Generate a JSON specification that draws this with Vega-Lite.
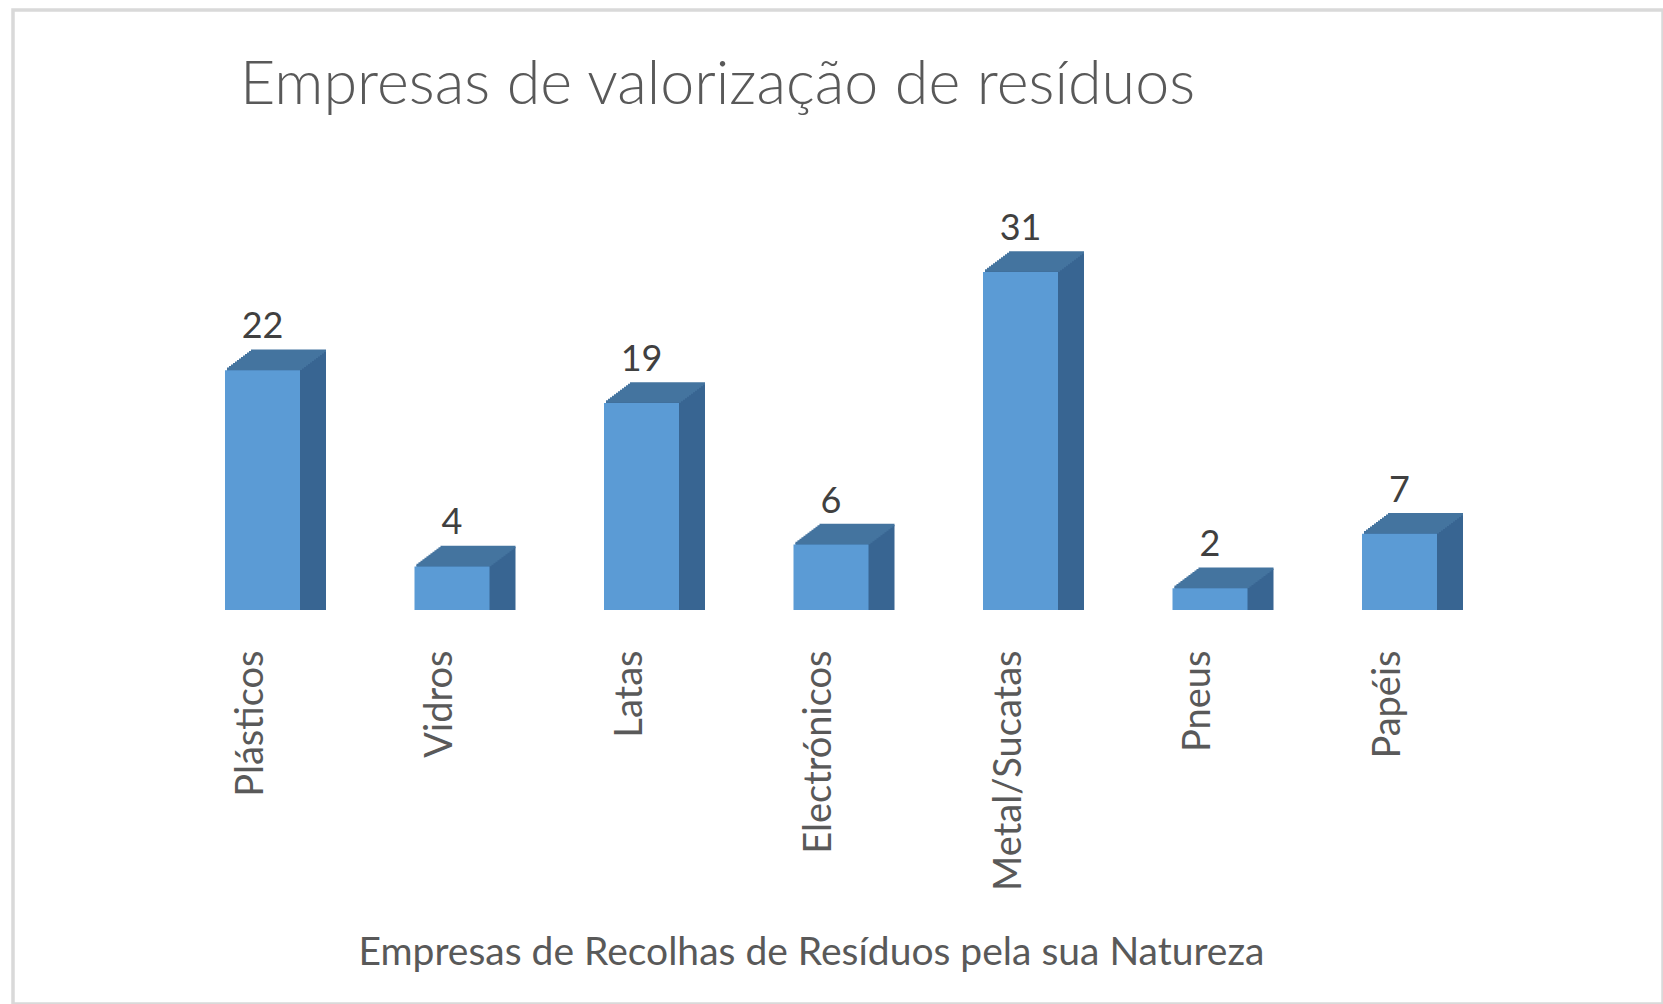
{
  "$schema": "https://vega.github.io/schema/vega-lite/v6.json",
  "autosize": {"type": "none"},
  "padding": {"left": 13, "top": 10, "right": 0, "bottom": 0},
  "width": 1650,
  "height": 994,
  "background": "#ffffff",
  "config": {
    "view": {"stroke": "#d9d9d9", "strokeWidth": 3.5},
    "font": "Lato"
  },
  "title": {
    "text": "Empresas de valorização de resíduos",
    "anchor": "start",
    "frame": "group",
    "orient": "top",
    "baseline": "alphabetic",
    "offset": -95,
    "dx": 227,
    "dy": 60,
    "font": "Lato",
    "fontSize": 61,
    "fontWeight": 300,
    "color": "#595959"
  },
  "data": {
    "values": [
      {"cat": "Plásticos", "n": 22},
      {"cat": "Vidros", "n": 4},
      {"cat": "Latas", "n": 19},
      {"cat": "Electrónicos", "n": 6},
      {"cat": "Metal/Sucatas", "n": 31},
      {"cat": "Pneus", "n": 2},
      {"cat": "Papéis", "n": 7}
    ]
  },
  "encoding": {
    "x": {
      "field": "cat",
      "type": "nominal",
      "sort": null,
      "scale": {"paddingInner": 0.60422, "paddingOuter": 0.30211, "range": [154.75, 1481.25]},
      "axis": {
        "title": "Empresas de Recolhas de Resíduos pela sua Natureza",
        "orient": "bottom",
        "offset": -394,
        "domain": false,
        "ticks": false,
        "labelAngle": -90,
        "labelAlign": "right",
        "labelBaseline": "alphabetic",
        "labelPadding": 40,
        "labelLimit": 0,
        "labelFont": "Lato",
        "labelFontSize": 38,
        "labelColor": "#595959",
        "titleFont": "Lato",
        "titleFontSize": 39,
        "titleFontWeight": "normal",
        "titleColor": "#595959",
        "titleX": 798,
        "titleY": 354,
        "titleAlign": "center",
        "titleAnchor": null,
        "titleBaseline": "alphabetic",
        "titleLimit": 0
      }
    },
    "y": {
      "field": "n",
      "type": "quantitative",
      "scale": {"domain": [-36.147, 55.046], "nice": false, "zero": false},
      "axis": null
    }
  },
  "layer": [
    {"mark": {"type": "bar", "color": "#386592", "opacity": 1, "xOffset": 2, "yOffset": -1.5}, "encoding": {"y2": {"datum": 0}}},
    {"mark": {"type": "bar", "color": "#386592", "opacity": 1, "xOffset": 4, "yOffset": -3}, "encoding": {"y2": {"datum": 0}}},
    {"mark": {"type": "bar", "color": "#386592", "opacity": 1, "xOffset": 6, "yOffset": -4.5}, "encoding": {"y2": {"datum": 0}}},
    {"mark": {"type": "bar", "color": "#386592", "opacity": 1, "xOffset": 8, "yOffset": -6}, "encoding": {"y2": {"datum": 0}}},
    {"mark": {"type": "bar", "color": "#386592", "opacity": 1, "xOffset": 10, "yOffset": -7.5}, "encoding": {"y2": {"datum": 0}}},
    {"mark": {"type": "bar", "color": "#386592", "opacity": 1, "xOffset": 12, "yOffset": -9}, "encoding": {"y2": {"datum": 0}}},
    {"mark": {"type": "bar", "color": "#386592", "opacity": 1, "xOffset": 14, "yOffset": -10.5}, "encoding": {"y2": {"datum": 0}}},
    {"mark": {"type": "bar", "color": "#386592", "opacity": 1, "xOffset": 16, "yOffset": -12}, "encoding": {"y2": {"datum": 0}}},
    {"mark": {"type": "bar", "color": "#386592", "opacity": 1, "xOffset": 18, "yOffset": -13.5}, "encoding": {"y2": {"datum": 0}}},
    {"mark": {"type": "bar", "color": "#386592", "opacity": 1, "xOffset": 20, "yOffset": -15}, "encoding": {"y2": {"datum": 0}}},
    {"mark": {"type": "bar", "color": "#386592", "opacity": 1, "xOffset": 22, "yOffset": -16.5}, "encoding": {"y2": {"datum": 0}}},
    {"mark": {"type": "bar", "color": "#386592", "opacity": 1, "xOffset": 24, "yOffset": -18}, "encoding": {"y2": {"datum": 0}}},
    {"mark": {"type": "bar", "color": "#386592", "opacity": 1, "xOffset": 26, "yOffset": -19.5}, "encoding": {"y2": {"datum": 0}}},
    {"mark": {"type": "tick", "color": "#44749f", "opacity": 1, "orient": "horizontal", "size": 75, "thickness": 2.5, "xOffset": 2, "yOffset": -1.5}},
    {"mark": {"type": "tick", "color": "#44749f", "opacity": 1, "orient": "horizontal", "size": 75, "thickness": 2.5, "xOffset": 4, "yOffset": -3}},
    {"mark": {"type": "tick", "color": "#44749f", "opacity": 1, "orient": "horizontal", "size": 75, "thickness": 2.5, "xOffset": 6, "yOffset": -4.5}},
    {"mark": {"type": "tick", "color": "#44749f", "opacity": 1, "orient": "horizontal", "size": 75, "thickness": 2.5, "xOffset": 8, "yOffset": -6}},
    {"mark": {"type": "tick", "color": "#44749f", "opacity": 1, "orient": "horizontal", "size": 75, "thickness": 2.5, "xOffset": 10, "yOffset": -7.5}},
    {"mark": {"type": "tick", "color": "#44749f", "opacity": 1, "orient": "horizontal", "size": 75, "thickness": 2.5, "xOffset": 12, "yOffset": -9}},
    {"mark": {"type": "tick", "color": "#44749f", "opacity": 1, "orient": "horizontal", "size": 75, "thickness": 2.5, "xOffset": 14, "yOffset": -10.5}},
    {"mark": {"type": "tick", "color": "#44749f", "opacity": 1, "orient": "horizontal", "size": 75, "thickness": 2.5, "xOffset": 16, "yOffset": -12}},
    {"mark": {"type": "tick", "color": "#44749f", "opacity": 1, "orient": "horizontal", "size": 75, "thickness": 2.5, "xOffset": 18, "yOffset": -13.5}},
    {"mark": {"type": "tick", "color": "#44749f", "opacity": 1, "orient": "horizontal", "size": 75, "thickness": 2.5, "xOffset": 20, "yOffset": -15}},
    {"mark": {"type": "tick", "color": "#44749f", "opacity": 1, "orient": "horizontal", "size": 75, "thickness": 2.5, "xOffset": 22, "yOffset": -16.5}},
    {"mark": {"type": "tick", "color": "#44749f", "opacity": 1, "orient": "horizontal", "size": 75, "thickness": 2.5, "xOffset": 24, "yOffset": -18}},
    {"mark": {"type": "tick", "color": "#44749f", "opacity": 1, "orient": "horizontal", "size": 75, "thickness": 2.5, "xOffset": 26, "yOffset": -19.5}},
    {"mark": {"type": "bar", "color": "#5b9bd5", "opacity": 1}, "encoding": {"y2": {"datum": 0}}},
    {
      "mark": {"type": "text", "font": "Lato", "fontSize": 36, "color": "#404040", "baseline": "alphabetic", "align": "center", "dy": -32},
      "encoding": {"text": {"field": "n", "type": "quantitative"}}
    }
  ]
}
